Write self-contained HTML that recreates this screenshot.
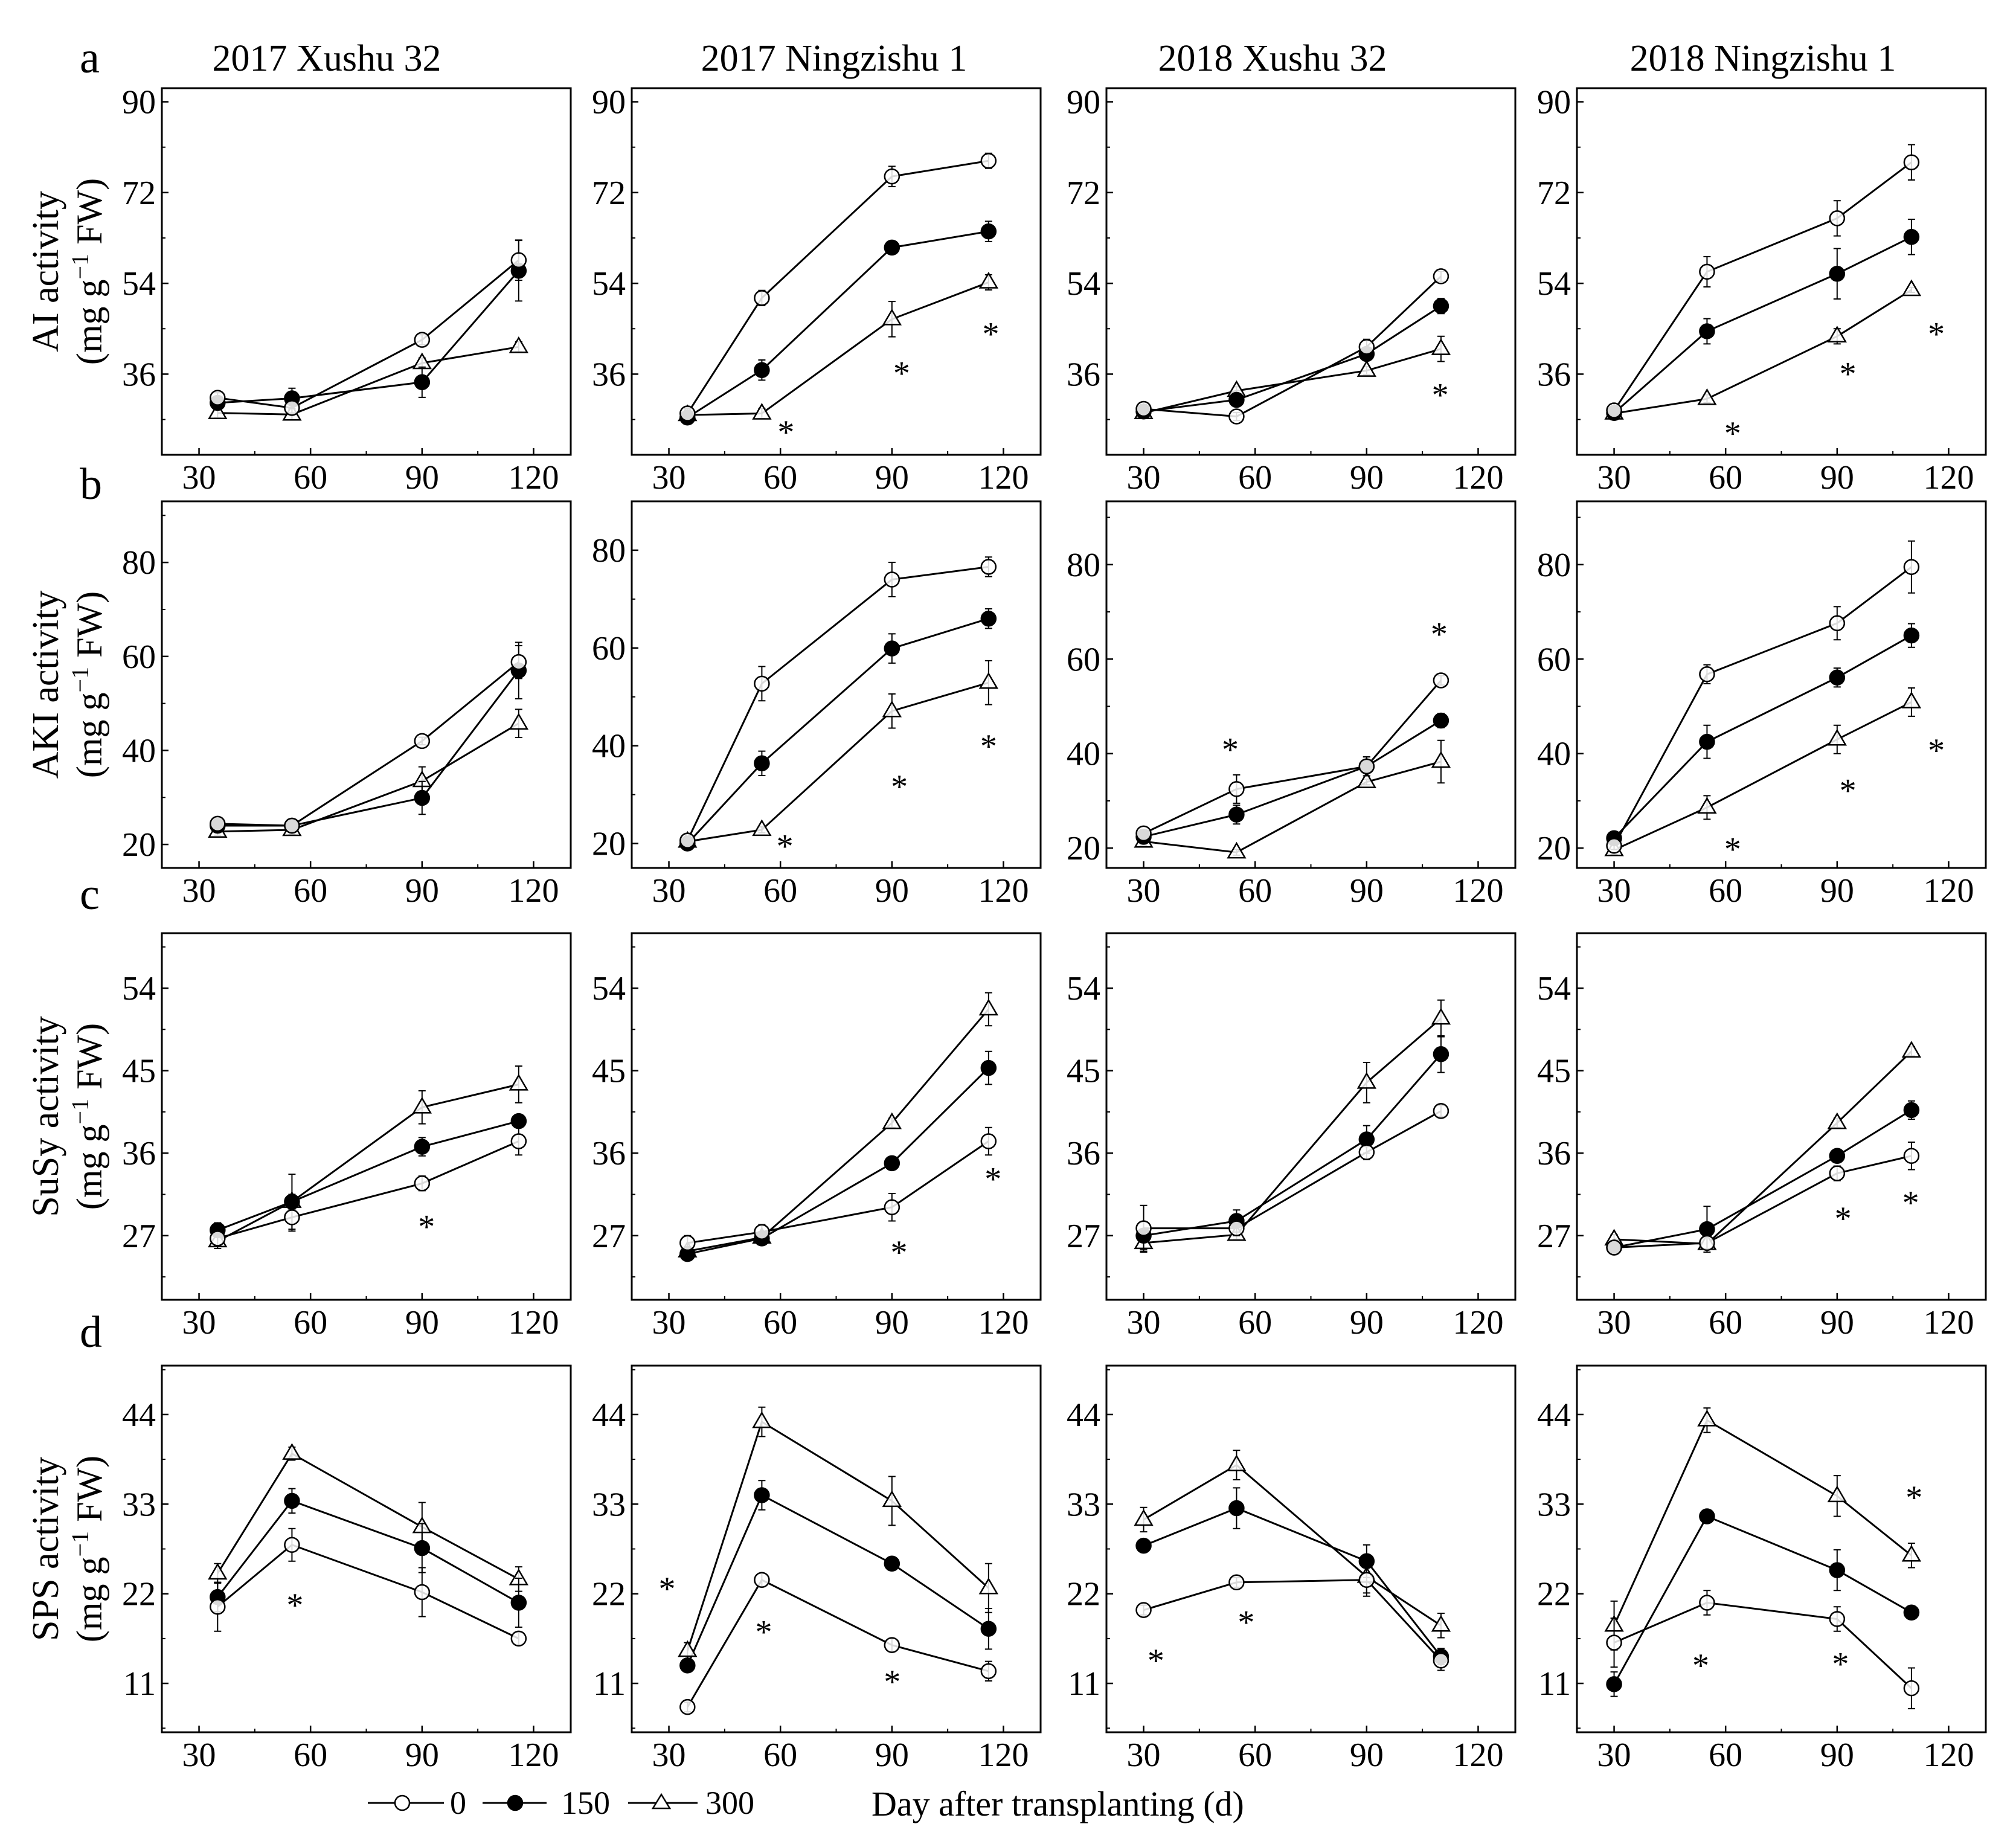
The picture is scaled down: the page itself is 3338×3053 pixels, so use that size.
<!DOCTYPE html>
<html><head><meta charset="utf-8"><style>
html,body{margin:0;padding:0;background:#fff}
svg{display:block}
text{font-family:"Liberation Serif",serif;fill:#000}
</style></head><body>
<svg id="chart" width="3338" height="3053" viewBox="0 0 3338 3053" xmlns="http://www.w3.org/2000/svg">
<rect x="0" y="0" width="3338" height="3053" fill="#fff"/>
<g id="layer"></g>
<g font-size="74">
<text x="132" y="120">a</text>
<text x="132" y="826">b</text>
<text x="132" y="1505">c</text>
<text x="132" y="2230">d</text>
</g>
<g font-size="62" text-anchor="middle">
<text x="541" y="117">2017 Xushu 32</text>
<text x="1381" y="117">2017 Ningzishu 1</text>
<text x="2107" y="117">2018 Xushu 32</text>
<text x="2919" y="117">2018 Ningzishu 1</text>
</g>
<g font-size="54">
<g>
<line x1="609" y1="2985" x2="735" y2="2985" stroke="#000" stroke-width="3"/>
<circle cx="666" cy="2985" r="12" fill="#fff" stroke="#000" stroke-width="2.5"/>
<text x="745" y="3003">0</text></g>
<g>
<line x1="799" y1="2985" x2="905" y2="2985" stroke="#000" stroke-width="3"/>
<circle cx="853" cy="2985" r="12" fill="#000" stroke="#000" stroke-width="2.5"/>
<text x="929" y="3003">150</text></g>
<g>
<line x1="1040" y1="2985" x2="1155" y2="2985" stroke="#000" stroke-width="3"/>
<polygon points="1095,2971 1109,2994 1081,2994" fill="#fff" stroke="#000" stroke-width="2.5"/>
<text x="1168" y="3003">300</text></g>
</g>
<text x="1443" y="3006" font-size="58">Day after transplanting (d)</text>
</svg>
<script>
// ----- data -----
var days2017 = [35, 55, 90, 116];
var days2018 = [30, 55, 90, 110];
var rowNames = ["AI", "AKI", "SuSy", "SPS"];
var yTicksA = [36, 54, 72, 90];
var yTicksB = [20, 40, 60, 80];
var yTicksC = [27, 36, 45, 54];
var yTicksD = [11, 22, 33, 44];
var xTicks = [30, 60, 90, 120];
// series values [row][col]
var s0 = [
 [[31.3,29.3,42.8,58.6],[28.2,51.1,75.2,78.3],[29.1,27.6,41.4,55.4],[28.8,56.3,66.9,78.0]],
 [[24.4,24.0,42.0,58.8],[20.6,52.7,74.0,76.6],[23.1,32.5,37.3,55.5],[20.5,56.8,67.6,79.5]],
 [[26.7,29.0,32.7,37.3],[26.2,27.4,30.1,37.3],[27.8,27.8,36.1,40.6],[25.7,26.2,33.8,35.7]],
 [[20.4,28.0,22.2,16.5],[8.1,23.7,15.7,12.5],[20.0,23.4,23.7,13.8],[16.0,20.9,18.9,10.4]]
];
var s150 = [
 [[30.3,31.2,34.4,56.5],[27.4,36.8,61.1,64.3],[28.6,30.9,40.0,49.5],[28.3,44.5,55.9,63.2]],
 [[24.0,24.0,29.9,57.0],[20.0,36.4,59.9,66.0],[22.4,27.1,37.3,47.0],[22.1,42.5,56.1,65.0]],
 [[27.6,30.7,36.7,39.5],[25.0,26.7,34.9,45.3],[27.0,28.6,37.5,46.8],[25.7,27.7,35.7,40.7]],
 [[21.6,33.4,27.6,20.9],[13.2,34.1,25.7,17.7],[27.9,32.5,26.0,14.3],[10.9,31.5,24.9,19.7]]
];
var s300 = [
 [[28.3,28.0,38.2,41.4],[27.9,28.2,46.9,54.2],[28.3,32.7,36.7,41.0],[28.2,31.1,43.5,52.7]],
 [[22.75,23.1,33.5,45.75],[20.4,22.8,47.1,52.9],[21.4,19.1,34.0,38.3],[19.6,28.6,43.0,50.9]],
 [[26.4,30.7,41.0,43.5],[25.3,26.8,39.3,51.7],[26.2,27.1,43.7,50.7],[26.6,26.1,39.3,47.1]],
 [[24.5,39.2,30.2,23.8],[15.0,43.1,33.4,22.7],[31.1,37.8,24.1,18.1],[18.1,43.3,34.0,26.7]]
];
var e0 = [
 [[1,1,1,4],[1,1.5,2,1.5],[0.8,0.8,1.5,1],[0.8,3,3.5,3.5]],
 [[0.8,0.8,0.8,3.5],[0.8,3.5,3.5,2],[0.8,3,2,1],[0.8,2,3.5,5.5]],
 [[0.8,1.5,0.8,1.5],[0.8,0.8,1.5,1.5],[2.5,0.8,0.8,0.6],[0.6,0.6,0.8,1.5]],
 [[3,2,3,0.8],[0.6,0.8,0.8,1.2],[0.6,0.6,2,1.2],[3,1.5,1.5,2.5]]
];
var e150 = [
 [[1,2,3,6],[0.8,2,0.8,2],[0.8,0.8,0.8,1.5],[0.6,2.5,5,3.5]],
 [[0.6,0.6,3.5,6],[0.6,2.5,3,2],[0.6,2,2,1.5],[0.6,3.5,2,2.5]],
 [[0.8,3,1,0.6],[0.5,0.5,0.6,1.8],[1.5,1.2,1.5,2],[0.5,2.5,0.6,1]],
 [[1.8,1.5,3,3],[0.8,1.8,0.8,2.5],[0.8,2.5,2,1],[1.5,0.5,2.5,0.6]]
];
var e300 = [
 [[1,1,1,1],[1,1,3.5,1.5],[1,0.8,0.8,2.5],[0.6,0.8,1.5,0.5]],
 [[0.8,1,3,3],[0.8,0.6,3.5,4.5],[0.8,0.6,0.6,4.5],[1,2.5,3,3]],
 [[0.8,0.8,1.8,2],[0.5,0.5,0.5,1.8],[1,0.5,2.2,2],[0.5,0.5,0.5,0.5]],
 [[1.2,0.8,3,1.5],[1,1.8,3,3],[1.5,1.8,2,1.5],[3,1.5,2.5,1.5]]
];
// significance asterisks [row][col] as [day, value]
var stars = [
 [[],[[61.5,25.6],[92.6,37.3],[116.6,45.1]],[[109.8,33.0]],[[61.9,25.4],[92.9,37.2],[116.7,45.1]]],
 [[],[[61.2,20.6],[92,32.8],[116,41.1]],[[53.3,42.1],[109.5,66.5]],[[61.9,21.0],[92.9,33.4],[116.7,41.9]]],
 [[[91.2,28.6]],[[91.9,25.8],[117.2,33.8]],[],[[91.6,29.5],[109.8,31.2]]],
 [[[55.8,21.3]],[[29.5,23.3],[55.5,18.0],[90.1,11.9]],[[33.3,14.5],[57.6,19.2]],[[53.3,13.9],[90.9,14.1],[110.7,34.5]]]
];

// ----- layout -----
var colLeft = [268, 1046, 1832, 2611];
var rowTop = [146, 830, 1545, 2261];
var PW = 677, PH = 607;
var yDomains = [
 [[20,92.7],[20,92.7],[20,92.7],[20,92.7]],
 [[15,93],[15,90],[15.8,93.4],[15.8,93.4]],
 [[20,60],[20,60],[20,60],[20,60]],
 [[5,50],[5,50],[5,50],[5,50]]
];
var yTickSets = [yTicksA, yTicksB, yTicksC, yTicksD];
var xDomain = [20, 130];
var NS = "http://www.w3.org/2000/svg";
var layer = document.getElementById("layer");
function mk(tag, attrs, parent) {
  var el = document.createElementNS(NS, tag);
  for (var k in attrs) el.setAttribute(k, attrs[k]);
  parent.appendChild(el);
  return el;
}
var rowTitleNames = ["AI activity", "AKI activity", "SuSy activity", "SPS activity"];

for (var r = 0; r < 4; r++) {
  for (var c = 0; c < 4; c++) {
    (function(r, c) {
      var L = colLeft[c], T = rowTop[r];
      var yd = yDomains[r][c];
      function xs(v) { return L + (v - xDomain[0]) / (xDomain[1] - xDomain[0]) * PW; }
      function ys(v) { return T + PH - (v - yd[0]) / (yd[1] - yd[0]) * PH; }
      var g = mk("g", {}, layer);
      
      
      var frame = mk("rect", {x: L, y: T, width: PW, height: PH, fill: "none", stroke: "#000", "stroke-width": 3}, g);
      
      
      var yt = yTickSets[r];
      var step = yt[1] - yt[0];
      for (var i = 0; i < yt.length; i++) {
        var yy = ys(yt[i]);
        mk("line", {x1: L, x2: L + 11, y1: yy, y2: yy, stroke: "#000", "stroke-width": 2.5}, g);
        var t = mk("text", {x: L - 10, y: yy + 19, "font-size": 56, "text-anchor": "end"}, g);
        t.textContent = yt[i];
        
        
      }
      for (var m = yt[0] - step / 2; m < yd[1]; m += step) {
        if (m <= yd[0]) continue;
        var ym = ys(m);
        mk("line", {x1: L, x2: L + 6, y1: ym, y2: ym, stroke: "#000", "stroke-width": 2}, g);
      }
      for (var i = 0; i < xTicks.length; i++) {
        var xx = xs(xTicks[i]);
        mk("line", {x1: xx, x2: xx, y1: T + PH, y2: T + PH - 11, stroke: "#000", "stroke-width": 2.5}, g);
        var t2 = mk("text", {x: xx, y: T + PH + 56, "font-size": 56, "text-anchor": "middle"}, g);
        t2.textContent = xTicks[i];
        
        
      }
      [45, 75, 105].forEach(function(m) {
        var xm = xs(m);
        mk("line", {x1: xm, x2: xm, y1: T + PH, y2: T + PH - 6, stroke: "#000", "stroke-width": 2}, g);
      });
      var days = c < 2 ? days2017 : days2018;
      var series = [[s300, e300, "tri"], [s150, e150, "fill"], [s0, e0, "open"]];
      var names = {tri: "series-300", fill: "series-150", open: "series-0"};
      series.forEach(function(s) {
        var vals = s[0][r][c];
        var pts = vals.map(function(v, i) { return xs(days[i]) + "," + ys(v); }).join(" ");
        var pl = mk("polyline", {points: pts, fill: "none", stroke: "#000", "stroke-width": 3}, g);
        
        
      });
      series.forEach(function(s) {
        var vals = s[0][r][c], errs = s[1][r][c];
        for (var i = 0; i < vals.length; i++) {
          var cx = xs(days[i]), cy = ys(vals[i]);
          var yT = ys(vals[i] + errs[i]), yB = ys(vals[i] - errs[i]);
          var eb = mk("path", {d: "M" + cx + " " + yT + "V" + yB + "M" + (cx - 6) + " " + yT + "H" + (cx + 6) + "M" + (cx - 6) + " " + yB + "H" + (cx + 6), stroke: "#000", "stroke-width": 2, fill: "none"}, g);
          
          
          var mkr;
          if (s[2] === "tri") {
            mkr = mk("polygon", {points: cx + "," + (cy - 15) + " " + (cx + 14) + "," + (cy + 9) + " " + (cx - 14) + "," + (cy + 9), fill: "#fff", "fill-opacity": 0.85, stroke: "#000", "stroke-width": 2.5}, g);
          } else {
            mkr = mk("circle", {cx: cx, cy: cy, r: 12, fill: s[2] === "fill" ? "#000" : "#fff", "fill-opacity": s[2] === "fill" ? 1 : 0.85, stroke: "#000", "stroke-width": 2.5}, g);
          }
          
          
        }
      });
      stars[r][c].forEach(function(st) {
        var a = mk("text", {x: xs(st[0]), y: ys(st[1]) + 28, "font-size": 56, "text-anchor": "middle"}, g);
        a.textContent = "*";
        
        
      });
      if (c === 0) {
        var cy0 = T + PH / 2;
        var yt1 = mk("text", {x: 0, y: 0, "font-size": 62, "text-anchor": "middle", transform: "translate(96," + cy0 + ") rotate(-90)"}, g);
        yt1.textContent = rowTitleNames[r];
        
        
        var yt2 = mk("text", {x: 0, y: 0, "font-size": 60, "text-anchor": "middle", transform: "translate(168," + cy0 + ") rotate(-90)"}, g);
        yt2.innerHTML = '(mg g<tspan font-size="40" dy="-22">\u22121</tspan><tspan dy="22"> FW)</tspan>';
        
        
      }
    })(r, c);
  }
}
</script>
</body></html>
